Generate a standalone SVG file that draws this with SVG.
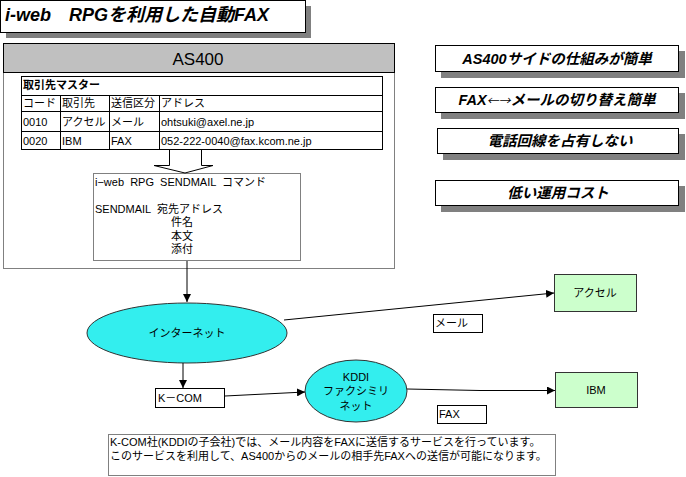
<svg xmlns="http://www.w3.org/2000/svg" width="686" height="477" viewBox="0 0 686 477">
<defs>
<style>
text{font-family:"Liberation Sans","Noto Sans CJK JP",sans-serif;fill:#000;white-space:pre}
.t{font-size:11px}
.bi{font-weight:bold;font-style:italic}
.box{fill:#fff;stroke:#000;stroke-width:1}
.shadow{fill:#808080}
.cn{fill:none;stroke:#000;stroke-width:1}
.ell{fill:#33eeee;stroke:#333;stroke-width:1}
.grn{fill:#ccffcc;stroke:#333;stroke-width:1}
.tbl{fill:none;stroke:#000;stroke-width:1}
</style>
<marker id="ah" viewBox="0 0 10 10" refX="10" refY="5" markerWidth="8" markerHeight="8" markerUnits="userSpaceOnUse" orient="auto">
<path d="M0,0 L10,5 L0,10 z" fill="#000"/>
</marker>
</defs>
<rect width="686" height="477" fill="#fff"/>

<g id="title">
<rect class="shadow" x="6" y="6" width="305" height="32"/>
<rect class="box" x="0.5" y="0.5" width="305" height="32"/>
<text x="5" y="21" font-size="18" class="bi">i-web　RPGを利用した自動FAX</text>
</g>

<g id="as400">
<rect x="3.5" y="43.5" width="391" height="225" fill="#fff" stroke="#808080"/>
<rect x="3.5" y="43.5" width="391" height="29" fill="#c0c0c0" stroke="#000"/>
<text x="198" y="65" font-size="17" text-anchor="middle">AS400</text>
</g>

<g id="master-table">
<rect class="tbl" x="21.5" y="76.5" width="361" height="73"/>
<line class="tbl" x1="21" y1="95.5" x2="382" y2="95.5"/>
<line class="tbl" x1="21" y1="111.5" x2="382" y2="111.5"/>
<line class="tbl" x1="21" y1="131.5" x2="382" y2="131.5"/>
<line class="tbl" x1="60.5" y1="95" x2="60.5" y2="149"/>
<line class="tbl" x1="109.5" y1="95" x2="109.5" y2="149"/>
<line class="tbl" x1="159.5" y1="95" x2="159.5" y2="149"/>
<text class="t" x="23" y="89" font-weight="bold">取引先マスター</text>
<text class="t" x="23" y="107">コード</text>
<text class="t" x="62" y="107">取引先</text>
<text class="t" x="111" y="107">送信区分</text>
<text class="t" x="161" y="107">アドレス</text>
<text class="t" x="23" y="126">0010</text>
<text class="t" x="62" y="126">アクセル</text>
<text class="t" x="111" y="126">メール</text>
<text class="t" x="161" y="126">ohtsuki@axel.ne.jp</text>
<text class="t" x="23" y="145">0020</text>
<text class="t" x="62" y="145">IBM</text>
<text class="t" x="111" y="145">FAX</text>
<text class="t" x="161" y="145">052-222-0040@fax.kcom.ne.jp</text>
</g>

<g id="sendmail">
<rect x="93.5" y="173.5" width="207" height="87" fill="#fff" stroke="#808080"/>
<text class="t" x="95" y="186">i−web  RPG  SENDMAIL  コマンド</text>
<text class="t" x="95" y="213">SENDMAIL  宛先アドレス</text>
<text class="t" x="171" y="226">件名</text>
<text class="t" x="171" y="240">本文</text>
<text class="t" x="171" y="253">添付</text>
</g>

<g id="points">
<g id="p1"><rect class="shadow" x="441" y="51" width="244" height="27"/><rect class="box" x="435.5" y="45.5" width="243" height="26"/><text x="557" y="64" font-size="14.5" class="bi" text-anchor="middle">AS400サイドの仕組みが簡単</text></g>
<g id="p2"><rect class="shadow" x="441" y="93" width="244" height="26"/><rect class="box" x="435.5" y="87.5" width="243" height="25"/><text x="557" y="105" font-size="14.5" class="bi" text-anchor="middle">FAX<tspan font-family="Noto Sans CJK JP" font-weight="normal" font-size="12">←→</tspan>メールの切り替え簡単</text></g>
<g id="p3"><rect class="shadow" x="443" y="134" width="242" height="26"/><rect class="box" x="437.5" y="128.5" width="241" height="25"/><text x="560" y="146" font-size="14.5" class="bi" text-anchor="middle">電話回線を占有しない</text></g>
<g id="p4"><rect class="shadow" x="441" y="186" width="244" height="26"/><rect class="box" x="435.5" y="180.5" width="243" height="25"/><text x="558" y="198" font-size="14.5" class="bi" text-anchor="middle">低い運用コスト</text></g>
</g>

<g id="internet">
<ellipse class="ell" cx="187" cy="333" rx="100" ry="30"/>
<text class="t" x="187" y="337" text-anchor="middle">インターネット</text>
</g>

<g id="kcom">
<rect class="box" x="155.5" y="388.5" width="69" height="19"/>
<text class="t" x="158" y="402">K－COM</text>
</g>

<g id="kddi">
<ellipse class="ell" cx="356" cy="391" rx="51" ry="31"/>
<text class="t" x="356" y="381" text-anchor="middle">KDDI</text>
<text class="t" x="356" y="395" text-anchor="middle">ファクシミリ</text>
<text class="t" x="356" y="410" text-anchor="middle">ネット</text>
</g>

<g id="axel">
<rect class="grn" x="554.5" y="274.5" width="82" height="37"/>
<text class="t" x="595" y="297" text-anchor="middle">アクセル</text>
</g>

<g id="ibm">
<rect class="grn" x="555.5" y="372.5" width="82" height="35"/>
<text class="t" x="596" y="394" text-anchor="middle">IBM</text>
</g>

<g id="label-mail">
<rect class="box" x="433.5" y="314.5" width="49" height="18"/>
<text class="t" x="435" y="327">メール</text>
</g>

<g id="label-fax">
<rect class="box" x="437.5" y="405.5" width="49" height="18"/>
<text class="t" x="439" y="418">FAX</text>
</g>

<g id="note">
<rect x="108.5" y="434.5" width="447" height="41" fill="#fff" stroke="#808080"/>
<text class="t" x="110" y="446">K-COM社(KDDIの子会社)では、メール内容をFAXに送信するサービスを行っています。</text>
<text class="t" x="110" y="460">このサービスを利用して、AS400からのメールの相手先FAXへの送信が可能になります。</text>
</g>

<g id="connectors">
<polyline class="cn" points="169.5,149 169.5,165.5 154,165.5 185,173 213,165.5 201.5,165.5 201.5,149" fill="#fff"/>
<line class="cn" x1="187" y1="261" x2="187" y2="302" marker-end="url(#ah)"/>
<line class="cn" x1="183" y1="363" x2="183" y2="388" marker-end="url(#ah)"/>
<line class="cn" x1="225" y1="396" x2="305" y2="392" marker-end="url(#ah)"/>
<line class="cn" x1="284" y1="320" x2="554" y2="293" marker-end="url(#ah)"/>
<polyline class="cn" points="407,389 480,390.5 555,390.5" marker-end="url(#ah)"/>
</g>
</svg>
